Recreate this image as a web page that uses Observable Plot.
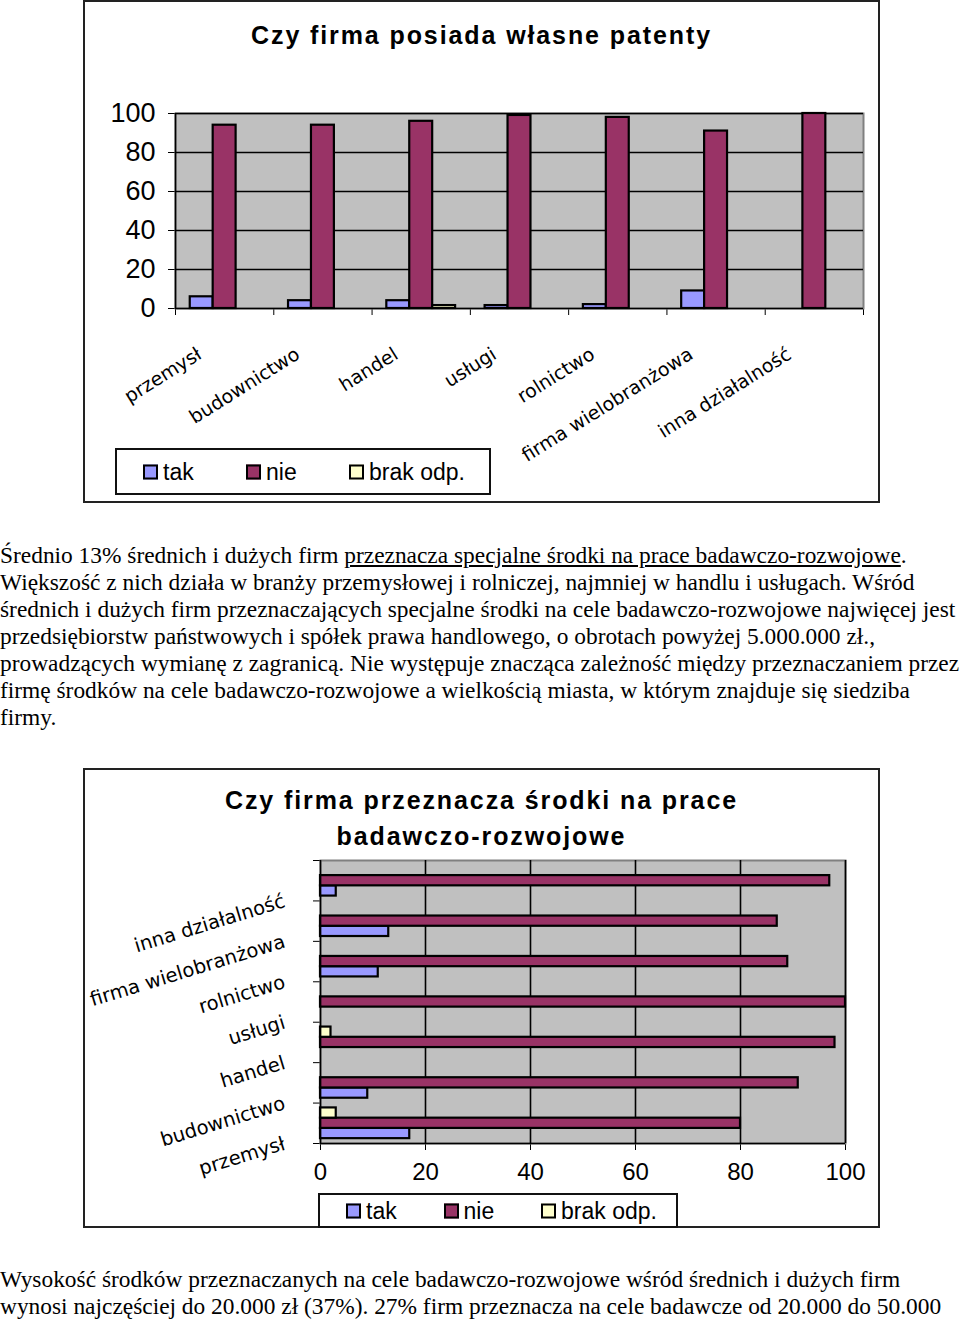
<!DOCTYPE html>
<html><head><meta charset="utf-8">
<script src="https://cdn.jsdelivr.net/npm/d3@7"></script>
<script src="https://cdn.jsdelivr.net/npm/@observablehq/plot@0.6"></script>
<style>
body{margin:0;background:#fff;}
#page{position:relative;width:960px;height:1322px;overflow:hidden;background:#fff;}
.frame{position:absolute;box-sizing:border-box;border:2px solid #222;}
.title{position:absolute;left:83px;width:797px;font-family:"Liberation Sans",Arial,sans-serif;font-weight:bold;font-size:25px;letter-spacing:1.9px;text-align:center;white-space:nowrap;line-height:36px;}
.legend{position:absolute;box-sizing:border-box;border:2px solid #111;background:#fff;font-family:"Liberation Sans",Arial,sans-serif;font-size:23px;}
.legend .item{position:absolute;top:50%;transform:translateY(-50%);display:flex;align-items:center;white-space:nowrap;}
.sw{width:11px;height:11px;border:2px solid #000;margin-right:5px;}
.para{position:absolute;left:0;font-family:"Liberation Serif","Times New Roman",serif;font-size:23.4px;line-height:27px;white-space:nowrap;color:#000;}
.plot{position:absolute;}
</style></head>
<body><div id="page">
<div class="frame" style="left:83px;top:0;width:797px;height:503px;"></div>
<div class="title" style="top:17px;">Czy firma posiada własne patenty</div>
<div id="chart1" class="plot" style="left:83px;top:0;"></div>
<div id="legend1" class="legend" style="left:115px;top:448px;width:376px;height:47px;"></div>

<div class="para" style="top:542px;">
<div>Średnio 13% średnich i dużych firm <u>przeznacza specjalne środki na prace badawczo-rozwojowe</u>.</div>
<div>Większość z nich działa w branży przemysłowej i rolniczej, najmniej w handlu i usługach. Wśród</div>
<div>średnich i dużych firm przeznaczających specjalne środki na cele badawczo-rozwojowe najwięcej jest</div>
<div>przedsiębiorstw państwowych i spółek prawa handlowego, o obrotach powyżej 5.000.000 zł.,</div>
<div>prowadzących wymianę z zagranicą. Nie występuje znacząca zależność między przeznaczaniem przez</div>
<div>firmę środków na cele badawczo-rozwojowe a wielkością miasta, w którym znajduje się siedziba</div>
<div>firmy.</div>
</div>

<div class="frame" style="left:83px;top:768px;width:797px;height:460px;"></div>
<div class="title" style="top:782px;">Czy firma przeznacza środki na prace<br>badawczo-rozwojowe</div>
<div id="chart2" class="plot" style="left:83px;top:768px;"></div>
<div id="legend2" class="legend" style="left:318px;top:1193px;width:360px;height:35px;"></div>

<div class="para" style="top:1266px;">
<div>Wysokość środków przeznaczanych na cele badawczo-rozwojowe wśród średnich i dużych firm</div>
<div>wynosi najczęściej do 20.000 zł (37%). 27% firm przeznacza na cele badawcze od 20.000 do 50.000</div>
</div>
</div>
<script>
const categories = ["przemysł","budownictwo","handel","usługi","rolnictwo","firma wielobranżowa","inna działalność"];
const series = ["tak","nie","brak odp."];
const seriesColors = ["#9999ff","#993366","#ffffcc"];
// Chart 1: Czy firma posiada własne patenty (%)
const patentTak  = [6, 4, 4, 1.5, 2, 9, 0];
const patentNie  = [94, 94, 96, 99, 98, 91, 100];
const patentBrak = [0, 0, 1.5, 0, 0, 0, 0];
// Chart 2: Czy firma przeznacza środki na prace badawczo-rozwojowe (%)
const rdTak  = [17, 9, 0, 0, 11, 13, 3];
const rdNie  = [80, 91, 98, 100, 89, 87, 97];
const rdBrak = [3, 0, 2, 0, 0, 0, 0];
const valueTicks = [0, 20, 40, 60, 80, 100];

function rows(arrs){
  const out = [];
  categories.forEach((c, ci) => arrs.forEach((a, si) => {
    if (a[ci] > 0) out.push({cat: c, ci, si, s: series[si], value: a[ci]});
  }));
  return out;
}
const color = {domain: series, range: seriesColors};
const catIdx = d3.range(categories.length + 1);
const labelRows = categories.map((c, i) => ({c, i}));

// ---- Chart 1: vertical grouped bars ----
{
  const pad = 0.15, bw = 0.7 / 3;
  const data = rows([patentTak, patentNie, patentBrak]);
  const p = Plot.plot({
    width: 797, height: 480,
    marginLeft: 92, marginRight: 17, marginTop: 113, marginBottom: 172,
    style: {background: "transparent", fontFamily: "'Liberation Sans', Arial, sans-serif", fontSize: "27px", color: "#000"},
    x: {domain: [0, categories.length], ticks: catIdx, tickFormat: () => "", tickSize: 7, label: null},
    y: {domain: [0, 100], ticks: valueTicks, tickSize: 7, tickPadding: 13, label: null},
    color,
    marks: [
      Plot.frame({fill: "#c0c0c0", stroke: "#808080", strokeWidth: 2}),
      Plot.ruleY(valueTicks.filter(t => t > 0), {stroke: "#000", strokeWidth: 1.6}),
      Plot.rectY(data, {
        x1: d => d.ci + pad + d.si * bw, x2: d => d.ci + pad + (d.si + 1) * bw,
        y1: 0, y2: "value", fill: "s", stroke: "#000", strokeWidth: 2.2
      }),
      Plot.ruleX([0], {stroke: "#000", strokeWidth: 1.6}),
      Plot.ruleY([0], {stroke: "#000", strokeWidth: 1.6}),
      Plot.text(labelRows, {
        x: d => d.i + 0.5, y: 0, text: "c", rotate: -32, textAnchor: "end",
        dx: -25, dy: 44, fontSize: 19, fontFamily: "'DejaVu Sans', Verdana, sans-serif", fill: "#000"
      })
    ]
  });
  document.getElementById("chart1").append(p);
}

// ---- Chart 2: horizontal grouped bars ----
{
  const pad = 0.12, bw = 0.76 / 3;
  const data = rows([rdTak, rdNie, rdBrak]);
  const p = Plot.plot({
    width: 797, height: 460,
    marginLeft: 237, marginRight: 35, marginTop: 92, marginBottom: 85,
    style: {background: "transparent", fontFamily: "'Liberation Sans', Arial, sans-serif", fontSize: "24px", color: "#000"},
    x: {domain: [0, 100], ticks: valueTicks, tickSize: 7, tickPadding: 12, label: null},
    y: {domain: [0, categories.length], ticks: catIdx, tickFormat: () => "", tickSize: 7, label: null},
    color,
    marks: [
      Plot.frame({fill: "#c0c0c0", stroke: "#808080", strokeWidth: 2}),
      Plot.ruleX(valueTicks.filter(t => t > 0), {stroke: "#000", strokeWidth: 1.6}),
      Plot.rectX(data, {
        y1: d => d.ci + pad + d.si * bw, y2: d => d.ci + pad + (d.si + 1) * bw,
        x1: 0, x2: "value", fill: "s", stroke: "#000", strokeWidth: 2.2
      }),
      Plot.ruleX([0], {stroke: "#000", strokeWidth: 1.6}),
      Plot.ruleY([0], {stroke: "#000", strokeWidth: 1.6}),
      Plot.text(labelRows, {
        x: 0, y: d => d.i + 0.5, text: "c", rotate: -17, textAnchor: "end",
        dx: -36, dy: 20, fontSize: 19.5, fontFamily: "'DejaVu Sans', Verdana, sans-serif", fill: "#000"
      })
    ]
  });
  document.getElementById("chart2").append(p);
}

// ---- Legends ----
function legend(id, step){
  const el = document.getElementById(id);
  series.forEach((s, i) => {
    const it = document.createElement("div");
    it.className = "item";
    it.style.left = (26 + i * step) + "px";
    const sw = document.createElement("div");
    sw.className = "sw"; sw.style.background = seriesColors[i];
    const t = document.createElement("span"); t.textContent = s;
    it.append(sw, t); el.append(it);
  });
}
legend("legend1", 103);
legend("legend2", 97.5);
</script>
</body></html>
